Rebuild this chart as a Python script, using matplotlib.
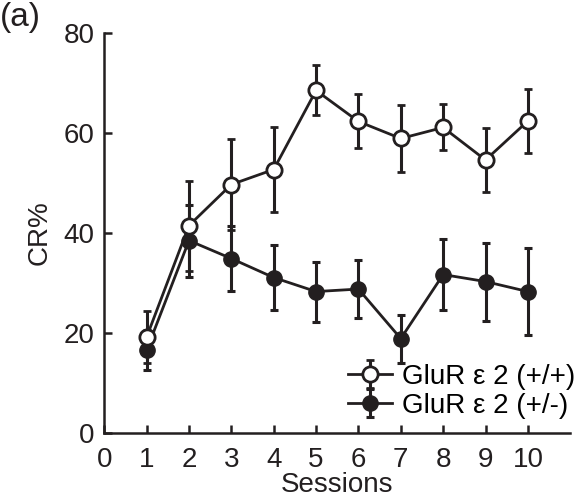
import numpy as np
import matplotlib.pyplot as plt

plt.rcParams['font.family'] = ['Liberation Sans', 'DejaVu Sans']

sessions = [1, 2, 3, 4, 5, 6, 7, 8, 9, 10]

# GluR e2 (+/+)
wt_mean = [19.2, 41.5, 49.7, 52.7, 68.5, 62.3, 58.9, 61.1, 54.6, 62.4]
wt_sem = [5.2, 9.0, 9.0, 8.5, 5.0, 5.4, 6.7, 4.6, 6.4, 6.4]

# GluR e2 (+/-)
het_mean = [16.6, 38.5, 34.9, 31.1, 28.3, 28.8, 18.9, 31.7, 30.3, 28.3]
het_sem = [4.0, 7.2, 6.5, 6.5, 6.0, 5.8, 4.8, 7.1, 7.8, 8.7]

x_ticks = [0, 1, 2, 3, 4, 5, 6, 7, 8, 9, 10]
y_ticks = [0, 20, 40, 60, 80]

fig = plt.figure(figsize=(5.76, 4.99), dpi=100)
ax = fig.add_axes([0.181, 0.132, 0.809, 0.802])

col = '#231f20'
ax.errorbar(sessions, het_mean, yerr=het_sem, color=col, lw=2, elinewidth=2.2,
            capsize=3, capthick=2.2, marker='o', ms=11, mfc=col, mec=col,
            label='GluR \u03b5 2 (+/-)', zorder=2)
ax.errorbar(sessions, wt_mean, yerr=wt_sem, color=col, lw=2, elinewidth=2.2,
            capsize=3, capthick=2.2, marker='o', ms=11, mfc='white', mec=col,
            mew=2, label='GluR \u03b5 2 (+/+)', zorder=3)

ax.set_xlim(0, 11)
ax.set_ylim(0, 80)
ax.set_xticks(x_ticks)
ax.set_yticks(y_ticks)
ax.tick_params(direction='in', length=6, width=1.8, labelsize=20, color=col,
               labelcolor=col, pad=7)
ax.tick_params(axis='x', pad=10)
for s in ['top', 'right']:
    ax.spines[s].set_visible(False)
for s in ['left', 'bottom']:
    ax.spines[s].set_linewidth(1.8)
    ax.spines[s].set_color(col)

ax.set_xlabel('Sessions', fontsize=20, color=col, labelpad=-1)
ax.set_ylabel('CR%', fontsize=20, color=col, labelpad=8)

handles, labels = ax.get_legend_handles_labels()
ax.legend(handles[::-1], labels[::-1], loc='lower right', bbox_to_anchor=(1.035, 0.008),
          frameon=False, fontsize=20, handlelength=1.6, handletextpad=0.35,
          labelspacing=0.1, borderaxespad=0)

fig.text(0.0, 0.995, '(a)', fontsize=24, ha='left', va='top', color=col)

fig.savefig('out.png', dpi=100)
